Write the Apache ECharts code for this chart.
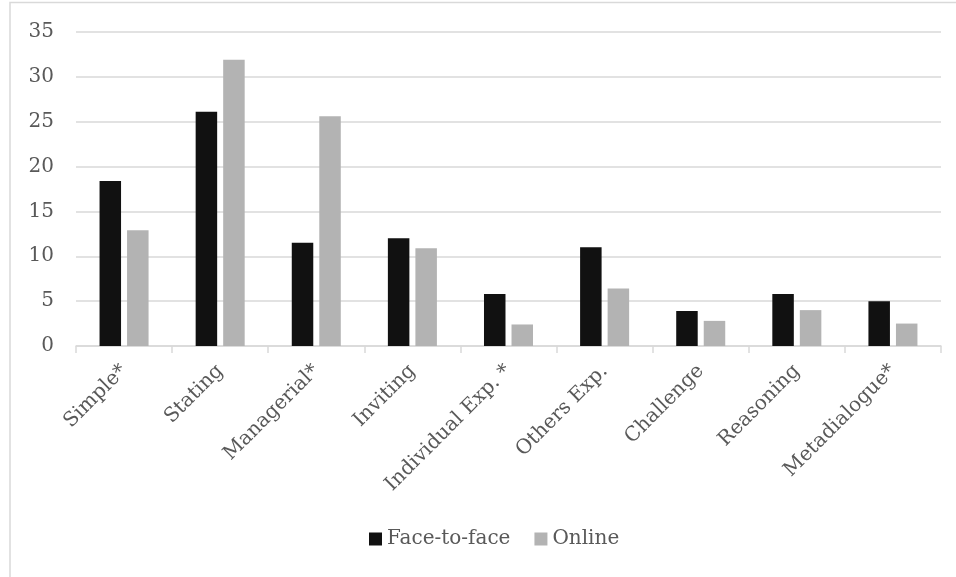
<!DOCTYPE html>
<html>
<head>
<meta charset="utf-8">
<script src="https://cdn.jsdelivr.net/npm/echarts@6/dist/echarts.min.js"></script>
<style>
html,body{margin:0;padding:0;background:#fff;}
#c{width:956px;height:577px;}
</style>
</head>
<body>
<div id="c"></div>
<script>
const categories = ["Simple*", "Stating", "Managerial*", "Inviting", "Individual Exp. *", "Others Exp.", "Challenge", "Reasoning", "Metadialogue*"];
const faceToFace = [18.4, 26.1, 11.5, 12.0, 5.8, 11.0, 3.9, 5.8, 5.0];
const online = [12.9, 31.9, 25.6, 10.9, 2.4, 6.4, 2.8, 4.0, 2.5];
const seriesNames = ["Face-to-face", "Online"];
const yTicks = {min: 0, max: 35, interval: 5};

const chart = echarts.init(document.getElementById('c'), null, {renderer: 'canvas'});
const font = "'DejaVu Serif', serif";
chart.setOption({
  animation: false,
  backgroundColor: '#ffffff',
  graphic: [{
    type: 'rect',
    shape: {x: 10, y: 2.5, width: 1000, height: 700},
    style: {fill: 'none', stroke: '#d9d9d9', lineWidth: 1.5},
    silent: true
  }],
  grid: {left: 76, right: 15, top: 32, bottom: 231, containLabel: false},
  legend: {
    data: seriesNames,
    bottom: 23,
    left: 364,
    itemWidth: 13,
    itemHeight: 13,
    itemGap: 24,
    icon: 'rect',
    textStyle: {fontFamily: font, fontSize: 20, color: '#595959'}
  },
  xAxis: {
    type: 'category',
    data: categories,
    axisLine: {lineStyle: {color: '#d9d9d9', width: 1.5}},
    axisTick: {show: true, length: 7, lineStyle: {color: '#d9d9d9', width: 1.5}},
    axisLabel: {
      rotate: 45,
      interval: 0,
      margin: 22,
      fontFamily: font,
      fontSize: 20,
      color: '#595959'
    }
  },
  yAxis: {
    type: 'value',
    min: yTicks.min,
    max: yTicks.max,
    interval: yTicks.interval,
    axisLine: {show: false},
    axisTick: {show: false},
    axisLabel: {fontFamily: font, fontSize: 20, color: '#595959', margin: 22},
    splitLine: {lineStyle: {color: '#d9d9d9', width: 1.5}}
  },
  series: [
    {
      name: seriesNames[0],
      type: 'bar',
      data: faceToFace,
      barWidth: 21.5,
      barGap: '28%',
      itemStyle: {color: '#111111'}
    },
    {
      name: seriesNames[1],
      type: 'bar',
      data: online,
      barWidth: 21.5,
      itemStyle: {color: '#b3b3b3'}
    }
  ]
});
</script>
</body>
</html>
